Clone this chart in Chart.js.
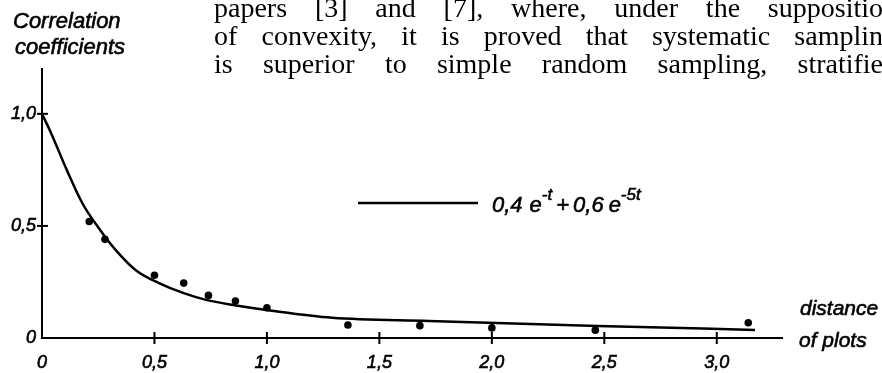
<!DOCTYPE html>
<html>
<head>
<meta charset="utf-8">
<script src="https://cdn.jsdelivr.net/npm/chart.js@4.4.1/dist/chart.umd.min.js"></script>
<style>
    html, body { margin: 0; padding: 0; background: #fff; }
    #contenedor { width: 882px; height: 373px; }
</style>
</head>
<body>
<div id="contenedor"><canvas id="grafica" width="882" height="373"></canvas></div>
<script>
// Curva dibujada a mano
const curvaX = [0, 0.04, 0.11, 0.18, 0.26, 0.33, 0.42, 0.52, 0.63, 0.73, 0.85, 1.03, 1.29, 1.72, 2.47, 3.17];
const curvaY = [1.0, 0.915, 0.75, 0.60, 0.48, 0.39, 0.30, 0.245, 0.20, 0.17, 0.147, 0.12, 0.09, 0.076, 0.054, 0.036];

// Coeficientes observados
const puntosX = [0.21, 0.28, 0.50, 0.63, 0.74, 0.86, 1.00, 1.36, 1.68, 2.00, 2.46, 3.14];
const puntosY = [0.52, 0.44, 0.28, 0.245, 0.19, 0.165, 0.135, 0.058, 0.055, 0.045, 0.035, 0.068];

// Ticks de los ejes
const ticksX = [0, 0.5, 1.0, 1.5, 2.0, 2.5, 3.0];
const etiquetasX = ['0', '0,5', '1,0', '1,5', '2,0', '2,5', '3,0'];
const ticksY = [0, 0.5, 1.0];
const etiquetasY = ['0', '0,5', '1,0'];

const tituloY = ['Correlation', 'coefficients'];
const tituloX = ['distance', 'of plots'];

// Texto de la pagina escaneada
const textoPagina = [
    'papers [3] and [7], where, under the supposition',
    'of convexity, it is proved that systematic sampling',
    'is superior to simple random sampling, stratified'
];

const fuenteLetra = '"Liberation Sans", Arial, sans-serif';
const fuentePagina = '"Liberation Serif", "Times New Roman", serif';

const decoracion = {
    id: 'decoracion',
    beforeDraw(chart) {
        let ctx = chart.ctx;
        ctx.save();
        ctx.fillStyle = '#000';
        ctx.font = '28px ' + fuentePagina;
        ctx.textBaseline = 'alphabetic';
        let base = [17, 45, 73];
        textoPagina.forEach(function (linea, i) {
            let palabras = linea.split(' ');
            let total = palabras.reduce((s, p) => s + ctx.measureText(p).width, 0);
            let hueco = (897 - 214 - total) / (palabras.length - 1);
            let x = 214;
            palabras.forEach(function (p) {
                ctx.fillText(p, x, base[i]);
                x += ctx.measureText(p).width + hueco;
            });
        });
        ctx.restore();
    },
    afterDraw(chart) {
        let ctx = chart.ctx;
        let ex = chart.scales.x;
        let ey = chart.scales.y;
        let x0 = ex.getPixelForValue(0);
        let y0 = ey.getPixelForValue(0);
        ctx.save();
        ctx.strokeStyle = '#000';
        ctx.lineWidth = 2;

        // Marcas de los ticks que cruzan los ejes
        ticksX.forEach(function (v) {
            if (v === 0) return;
            let px = ex.getPixelForValue(v);
            ctx.beginPath();
            ctx.moveTo(px, y0 - 6);
            ctx.lineTo(px, y0 + 6);
            ctx.stroke();
        });
        ticksY.forEach(function (v) {
            if (v === 0) return;
            let py = ey.getPixelForValue(v);
            ctx.beginPath();
            ctx.moveTo(x0 - 5, py);
            ctx.lineTo(x0 + 6, py);
            ctx.stroke();
        });

        // Titulos de los ejes (letra a mano, algo gruesa)
        ctx.fillStyle = '#000';
        ctx.lineWidth = 0.6;
        let texto = function (txt, x, y) {
            ctx.fillText(txt, x, y);
            ctx.strokeText(txt, x, y);
        };
        ctx.font = 'italic 22px ' + fuenteLetra;
        ctx.textAlign = 'left';
        texto(tituloY[0], 13, 28);
        texto(tituloY[1], 15, 54);
        ctx.font = 'italic 21px ' + fuenteLetra;
        texto(tituloX[0], 800, 315);
        texto(tituloX[1], 799, 347);

        // Leyenda
        let ds = chart.data.datasets[0];
        ctx.lineWidth = ds.borderWidth;
        ctx.beginPath();
        ctx.moveTo(358, 203);
        ctx.lineTo(478, 203);
        ctx.stroke();

        ctx.lineWidth = 0.6;
        let x = 492;
        let yb = 212;
        let normal = 'italic 22px ' + fuenteLetra;
        let sup = 'italic 17px ' + fuenteLetra;
        let trozo = function (txt, f, dy, extra) {
            ctx.font = f;
            texto(txt, x, yb + dy);
            x += ctx.measureText(txt).width + extra;
        };
        trozo('0,4', normal, 0, 7);
        trozo('e', normal, 0, 0);
        trozo('-t', sup, -12, 4);
        trozo('+', normal, 0, 4);
        trozo('0,6', normal, 0, 5);
        trozo('e', normal, 0, 0);
        trozo('-5t', sup, -12, 0);
        ctx.restore();
    }
};

window.addEventListener('load', function () {
    let canvas = document.getElementById('grafica');

    let curva = curvaX.map((x, i) => ({ x: x, y: curvaY[i] }));
    let puntos = puntosX.map((x, i) => ({ x: x, y: puntosY[i] }));

    let fuenteTicks = { family: fuenteLetra, size: 18, style: 'italic' };

    new Chart(canvas, {
        type: 'scatter',
        data: {
            datasets: [{
                label: '0,4 e^-t + 0,6 e^-5t',
                data: curva,
                showLine: true,
                borderColor: '#000',
                borderWidth: 2.5,
                pointRadius: 0,
                cubicInterpolationMode: 'monotone'
            }, {
                label: 'observed',
                data: puntos,
                backgroundColor: '#000',
                borderColor: '#000',
                pointRadius: 3.8,
                pointBorderWidth: 0
            }]
        },
        options: {
            responsive: false,
            animation: false,
            layout: { padding: { left: 0, top: 69, right: 100, bottom: 0 } },
            plugins: {
                legend: { display: false },
                tooltip: { enabled: false }
            },
            scales: {
                x: {
                    type: 'linear',
                    min: 0,
                    max: 3.29,
                    afterBuildTicks: function (s) { s.ticks = ticksX.map(v => ({ value: v })); },
                    afterFit: function (s) { s.height = 35; },
                    grid: { display: false, drawTicks: false },
                    border: { display: true, color: '#000', width: 2 },
                    ticks: {
                        padding: 14,
                        color: '#000',
                        textStrokeColor: '#000',
                        textStrokeWidth: 0.6,
                        font: fuenteTicks,
                        callback: function (v) { return etiquetasX[ticksX.indexOf(v)]; }
                    }
                },
                y: {
                    type: 'linear',
                    min: 0,
                    max: 1.2,
                    afterBuildTicks: function (s) { s.ticks = ticksY.map(v => ({ value: v })); },
                    afterFit: function (s) { s.width = 42; },
                    grid: { display: false, drawTicks: false },
                    border: { display: true, color: '#000', width: 2 },
                    ticks: {
                        padding: 6,
                        color: '#000',
                        textStrokeColor: '#000',
                        textStrokeWidth: 0.6,
                        font: fuenteTicks,
                        callback: function (v) { return etiquetasY[ticksY.indexOf(v)]; }
                    }
                }
            }
        },
        plugins: [decoracion]
    });
});
</script>
</body>
</html>
